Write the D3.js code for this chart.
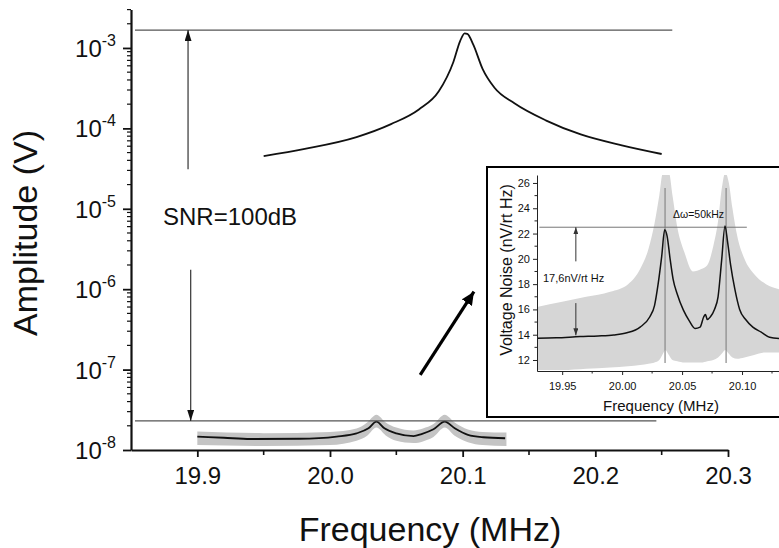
<!DOCTYPE html>
<html><head><meta charset="utf-8">
<script src="https://cdn.jsdelivr.net/npm/d3@7"></script>
<style>body{margin:0;background:#fff;overflow:hidden} text{font-family:"Liberation Sans",Arial,sans-serif;fill:#111}</style>
</head><body><svg id="c" width="779" height="548"></svg>
<script>
// ---------- main chart data ----------
const peakFreq = [19.950, 19.981, 20.020, 20.046, 20.067, 20.082, 20.093, 20.098, 20.1015, 20.1035, 20.108, 20.115, 20.124, 20.139, 20.163, 20.189, 20.220, 20.250];
const peakAmp  = [4.53e-5, 5.57e-5, 7.8e-5, 1.13e-4, 1.72e-4, 2.89e-4, 6.7e-4, 1.21e-3, 1.52e-3, 1.50e-3, 1.10e-3, 5.5e-4, 3.2e-4, 2.05e-4, 1.25e-4, 8.4e-5, 6.15e-5, 4.8e-5];

const lowFreq = [19.900, 19.920, 19.940, 19.977, 20.005, 20.020, 20.029, 20.035, 20.041, 20.050, 20.063, 20.069, 20.078, 20.0865, 20.094, 20.104, 20.1155, 20.132];
const lowAmp  = [1.47e-8, 1.42e-8, 1.37e-8, 1.38e-8, 1.47e-8, 1.61e-8, 1.86e-8, 2.25e-8, 1.86e-8, 1.61e-8, 1.49e-8, 1.58e-8, 1.81e-8, 2.25e-8, 1.86e-8, 1.54e-8, 1.44e-8, 1.40e-8];

const bandFreq = [19.900, 19.950, 20.000, 20.020, 20.028, 20.035, 20.042, 20.050, 20.063, 20.070, 20.078, 20.0865, 20.094, 20.104, 20.115, 20.133];
const bandLo   = [1.15e-8, 1.12e-8, 1.15e-8, 1.30e-8, 1.50e-8, 1.90e-8, 1.52e-8, 1.30e-8, 1.22e-8, 1.28e-8, 1.45e-8, 1.90e-8, 1.50e-8, 1.25e-8, 1.15e-8, 1.12e-8];
const bandHi   = [1.70e-8, 1.62e-8, 1.68e-8, 1.85e-8, 2.20e-8, 2.75e-8, 2.20e-8, 1.90e-8, 1.75e-8, 1.85e-8, 2.10e-8, 2.75e-8, 2.20e-8, 1.80e-8, 1.68e-8, 1.65e-8];

const xTicks = [19.9, 20.0, 20.1, 20.2, 20.3];
const xMinorTicks = [19.95, 20.05, 20.15, 20.25];
const yTickExp = [-8, -7, -6, -5, -4, -3];

const topLevel = 1.67e-3, bottomLevel = 2.3e-8;
const snrLabel = "SNR=100dB";

// ---------- inset data ----------
const insetFreq  = [19.929, 19.945, 19.965, 19.980, 19.993, 20.004, 20.015, 20.023, 20.027, 20.030, 20.033, 20.0355, 20.0375, 20.040, 20.0425, 20.046, 20.051, 20.056, 20.0608, 20.065, 20.068, 20.0695, 20.071, 20.0735, 20.077, 20.080, 20.083, 20.0858, 20.088, 20.0905, 20.094, 20.098, 20.103, 20.109, 20.116, 20.123, 20.131];
const insetNoise = [13.72, 13.75, 13.85, 13.90, 13.98, 14.15, 14.6, 15.4, 16.3, 18.0, 20.2, 22.3, 21.8, 20.0, 18.4, 17.2, 15.96, 15.1, 14.5, 14.6, 15.4, 15.6, 15.2, 15.4, 16.0, 17.0, 19.9, 22.6, 21.3, 19.5, 17.6, 16.0, 15.2, 14.6, 14.2, 13.8, 13.7];

const insetBandFreq = [19.929, 19.950, 19.970, 19.990, 20.005, 20.015, 20.022, 20.027, 20.031, 20.034, 20.036, 20.039, 20.042, 20.046, 20.052, 20.059, 20.066, 20.071, 20.076, 20.080, 20.083, 20.086, 20.089, 20.092, 20.096, 20.102, 20.110, 20.120, 20.131];
const insetHi = [16.2, 16.6, 17.0, 17.4, 18.0, 19.2, 20.8, 22.8, 25.0, 26.8, 26.8, 26.8, 25.0, 22.5, 20.5, 19.0, 19.2, 19.5, 21.0, 23.0, 25.5, 26.8, 26.0, 24.0, 21.8, 20.0, 18.8, 18.0, 17.6];
const insetLo = [11.2, 11.2, 11.3, 11.4, 11.5, 11.6, 11.7, 11.8, 12.0, 12.5, 12.8, 12.4, 12.0, 11.9, 11.8, 11.8, 11.8, 11.9, 12.0, 12.2, 12.5, 12.8, 12.5, 12.2, 12.1, 12.2, 12.4, 12.6, 12.6];

const insetXTicks = [19.95, 20.00, 20.05, 20.10];
const insetXMinor = [19.975, 20.025, 20.075, 20.125];
const insetYTicks = [12, 14, 16, 18, 20, 22, 24, 26];
const insetYMinor = [13, 15, 17, 19, 21, 23, 25];
const peakMarkers = [20.0358, 20.0867];
const insetLevel = 22.5;
const insetArrowFreq = 19.9614;
const insetLabel1 = "17,6nV/rt Hz";
const insetLabel2 = "\u0394\u03c9=50kHz";

// ---------- drawing ----------
const svg = d3.select("#c");
const defs = svg.append("defs");
function marker(id, w, h, fill) {
  defs.append("marker").attr("id", id).attr("viewBox", `0 0 ${h} ${w}`)
    .attr("refX", h).attr("refY", w / 2).attr("markerUnits", "userSpaceOnUse")
    .attr("markerWidth", h).attr("markerHeight", w).attr("orient", "auto")
    .append("path").attr("d", `M0,0L${h},${w / 2}L0,${w}Z`).attr("fill", fill);
}
marker("arr", 7, 11, "#111");
marker("arrS", 5, 7, "#333");
marker("arrB", 12, 13, "#000");

const x = d3.scaleLinear().domain([19.85, 20.3]).range([131, 728]);
const y = d3.scaleLog().domain([1e-8, 3e-3]).range([450, 9.6]);

// gray band
const bandData = bandFreq.map((f, i) => ({ f, lo: bandLo[i], hi: bandHi[i] }));
svg.append("path").datum(bandData)
  .attr("d", d3.area().x(d => x(d.f)).y0(d => y(d.lo)).y1(d => y(d.hi)).curve(d3.curveMonotoneX))
  .attr("fill", "#c4c4c4");
svg.append("path").datum(lowFreq.map((f, i) => ({ f, v: lowAmp[i] })))
  .attr("d", d3.line().x(d => x(d.f)).y(d => y(d.v)).curve(d3.curveMonotoneX))
  .attr("fill", "none").attr("stroke", "#111").attr("stroke-width", 1.8);

// peak curve
svg.append("path").datum(peakFreq.map((f, i) => ({ f, v: peakAmp[i] })))
  .attr("d", d3.line().x(d => x(d.f)).y(d => y(d.v)).curve(d3.curveMonotoneX))
  .attr("fill", "none").attr("stroke", "#111").attr("stroke-width", 1.8);

// horizontal reference lines
svg.append("line").attr("x1", x(19.853)).attr("x2", x(20.258)).attr("y1", y(topLevel)).attr("y2", y(topLevel))
  .attr("stroke", "#555").attr("stroke-width", 1.3);
svg.append("line").attr("x1", x(19.853)).attr("x2", x(20.246)).attr("y1", y(bottomLevel)).attr("y2", y(bottomLevel))
  .attr("stroke", "#555").attr("stroke-width", 1.3);

// SNR arrows
svg.append("line").attr("x1", x(19.893)).attr("x2", x(19.893)).attr("y1", y(3.1e-5)).attr("y2", y(topLevel))
  .attr("stroke", "#333").attr("stroke-width", 1.2).attr("marker-end", "url(#arr)");
svg.append("line").attr("x1", x(19.895)).attr("x2", x(19.895)).attr("y1", y(1.75e-6)).attr("y2", y(bottomLevel))
  .attr("stroke", "#333").attr("stroke-width", 1.2).attr("marker-end", "url(#arr)");
svg.append("text").attr("x", 163).attr("y", 225).attr("font-size", 24).text(snrLabel);

// slanted arrow
svg.append("line").attr("x1", x(20.068)).attr("y1", y(8.6e-8)).attr("x2", x(20.1085)).attr("y2", y(9.3e-7))
  .attr("stroke", "#000").attr("stroke-width", 3.2).attr("marker-end", "url(#arrB)");

// axes
const xAxis = svg.append("g").attr("transform", "translate(0,450)");
xAxis.call(d3.axisBottom(x).tickValues(xTicks).tickFormat(d3.format(".1f")).tickSize(7).tickSizeOuter(0));
xMinorTicks.forEach(t => xAxis.append("line").attr("x1", x(t)).attr("x2", x(t)).attr("y1", 0).attr("y2", 5).attr("stroke", "#111").attr("stroke-width", 1.6));
xAxis.select(".domain").attr("stroke", "#111").attr("stroke-width", 2.2);
xAxis.selectAll(".tick line").attr("stroke", "#111").attr("stroke-width", 1.8);
xAxis.selectAll(".tick text").attr("font-size", 24).attr("dy", "1.0em").attr("fill", "#111").attr("font-family", "Liberation Sans, Arial, sans-serif");

const yAxis = svg.append("g").attr("transform", "translate(131,0)");
yAxis.call(d3.axisLeft(y).tickValues(yTickExp.map(e => Math.pow(10, e))).tickFormat("").tickSize(8).tickSizeOuter(0));
yAxis.select(".domain").attr("stroke", "#111").attr("stroke-width", 2.2);
yAxis.selectAll(".tick line").attr("stroke", "#111").attr("stroke-width", 1.8);
const minorY = [];
yTickExp.forEach(e => { for (let k = 2; k <= 9; k++) { const v = k * Math.pow(10, e); if (v <= 3.0001e-3) minorY.push(v); } });
minorY.forEach(v => yAxis.append("line").attr("x1", -4).attr("x2", 0).attr("y1", y(v)).attr("y2", y(v)).attr("stroke", "#111").attr("stroke-width", 1.2));
yTickExp.forEach(e => {
  const t = svg.append("text").attr("x", 116).attr("y", y(Math.pow(10, e)) + 9).attr("text-anchor", "end").attr("font-size", 24);
  t.append("tspan").text("10");
  t.append("tspan").attr("font-size", 16).attr("dy", -11).text("-" + Math.abs(e));
});

svg.append("text").attr("x", 430).attr("y", 541).attr("text-anchor", "middle").attr("font-size", 34).text("Frequency (MHz)");
svg.append("text").attr("transform", "translate(37,233) rotate(-90)").attr("text-anchor", "middle").attr("font-size", 34).text("Amplitude (V)");

// ---------- inset ----------
const ins = svg.append("g");
ins.append("rect").attr("x", 487).attr("y", 167).attr("width", 320).attr("height", 250)
  .attr("fill", "#fff").attr("stroke", "#000").attr("stroke-width", 2);
const ix = d3.scaleLinear().domain([19.929, 20.14]).range([537, 790]);
const iy = d3.scaleLinear().domain([11.13, 26.63]).range([371, 175]);
defs.append("clipPath").attr("id", "ic").append("rect").attr("x", 537).attr("y", 175).attr("width", 260).attr("height", 196);
const ip = ins.append("g").attr("clip-path", "url(#ic)");
ip.append("path").datum(insetBandFreq.map((f, i) => ({ f, lo: insetLo[i], hi: insetHi[i] })))
  .attr("d", d3.area().x(d => ix(d.f)).y0(d => iy(d.lo)).y1(d => iy(d.hi)).curve(d3.curveMonotoneX))
  .attr("fill", "#d6d6d6");
peakMarkers.forEach(f => ip.append("line").attr("x1", ix(f)).attr("x2", ix(f)).attr("y1", iy(11.76)).attr("y2", iy(25.6))
  .attr("stroke", "#888").attr("stroke-width", 1.2));
ip.append("line").attr("x1", ix(19.931)).attr("x2", ix(20.104)).attr("y1", iy(insetLevel)).attr("y2", iy(insetLevel))
  .attr("stroke", "#777").attr("stroke-width", 1);
ip.append("path").datum(insetFreq.map((f, i) => ({ f, v: insetNoise[i] })))
  .attr("d", d3.line().x(d => ix(d.f)).y(d => iy(d.v)).curve(d3.curveMonotoneX))
  .attr("fill", "none").attr("stroke", "#111").attr("stroke-width", 1.5);
ip.append("line").attr("x1", ix(insetArrowFreq)).attr("x2", ix(insetArrowFreq)).attr("y1", iy(19.8)).attr("y2", iy(insetLevel))
  .attr("stroke", "#333").attr("stroke-width", 1).attr("marker-end", "url(#arrS)");
ip.append("line").attr("x1", ix(insetArrowFreq)).attr("x2", ix(insetArrowFreq)).attr("y1", iy(16.5)).attr("y2", iy(13.95))
  .attr("stroke", "#333").attr("stroke-width", 1).attr("marker-end", "url(#arrS)");

const ixa = ins.append("g").attr("transform", "translate(0,371)");
ixa.call(d3.axisBottom(ix).tickValues(insetXTicks).tickFormat(d3.format(".2f")).tickSize(4).tickSizeOuter(0));
insetXMinor.forEach(t => ixa.append("line").attr("x1", ix(t)).attr("x2", ix(t)).attr("y1", 0).attr("y2", 2.5).attr("stroke", "#222"));
ixa.selectAll("text").attr("font-size", 11).attr("dy", "1.1em").attr("fill", "#222").attr("font-family", "Liberation Sans, Arial, sans-serif");
ixa.selectAll(".domain,.tick line").attr("stroke", "#222");
const iya = ins.append("g").attr("transform", "translate(537,0)");
iya.call(d3.axisLeft(iy).tickValues(insetYTicks).tickFormat(d3.format("d")).tickSize(4).tickSizeOuter(0));
insetYMinor.forEach(t => iya.append("line").attr("x1", -2.5).attr("x2", 0).attr("y1", iy(t)).attr("y2", iy(t)).attr("stroke", "#222"));
iya.selectAll("text").attr("font-size", 11).attr("fill", "#222").attr("font-family", "Liberation Sans, Arial, sans-serif");
iya.selectAll(".domain,.tick line").attr("stroke", "#222");

ins.append("text").attr("x", 543).attr("y", 282).attr("font-size", 11).text(insetLabel1);
ins.append("text").attr("x", 673).attr("y", 218).attr("font-size", 10.5).text(insetLabel2);
ins.append("text").attr("x", 661).attr("y", 411).attr("text-anchor", "middle").attr("font-size", 15).text("Frequency (MHz)");
ins.append("text").attr("transform", "translate(512,270) rotate(-90)").attr("text-anchor", "middle").attr("font-size", 16).text("Voltage Noise (nV/rt Hz)");
</script></body></html>
